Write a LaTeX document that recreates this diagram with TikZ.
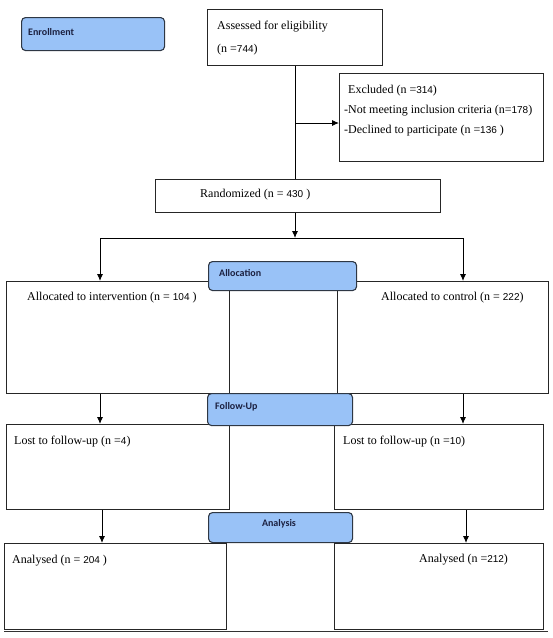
\documentclass[tikz,border=0pt]{standalone}
\usepackage{fontspec}
\setmainfont{Liberation Serif}
\newfontfamily\nbfont{Liberation Sans}
\newfontfamily\tagfont{Carlito}
\usepackage{tikz}
\usetikzlibrary{calc}
\usetikzlibrary{arrows.meta}
\definecolor{tagblue}{HTML}{99C2F7}
\definecolor{tagedge}{HTML}{2E3744}
\definecolor{tagtext}{HTML}{1B2040}
\newcommand{\nb} [1] {{\nbfont\fontsize{10}{12}\selectfont #1}}
\tikzset{box/.style={draw=black!85,line width=1.1pt,anchor=north west,inner sep=0pt}}
\tikzset{
tag/.style={draw=tagedge,fill=tagblue,line width=1.1pt,rounded corners=4pt,anchor=north west,inner sep=0pt},
tagtxt/.style={anchor=west,inner sep=0pt,text=tagtext,font=\tagfont\bfseries\fontsize{10}{12}\selectfont},
txt/.style={anchor=west,inner sep=0pt,font=\fontsize{12}{14}\selectfont},
arr/.style={line width=0.9pt,-{Latex[length=7pt,width=6pt]}}
}

\begin{document}
\begin{tikzpicture}[x=1pt,y=-1pt]
\useasboundingbox (0,0) rectangle (553,638);

% boxes: name/x/y/width/height
\foreach \n/\x/\y/\w/\h in {assess/207/9/175/56, excl/339/73/204/88, rand/155/179/285/33,
  allocL/6/281/223/112, allocR/337/281/211/112, lostL/6/424/223/85, lostR/334/424/209/85,
  anaL/4/543/222/86, anaR/334/543/209/86}
  {
 \node[box,minimum width=\w pt,minimum height=\h pt] (\n) at (\x,\y) {};
 }

\node[txt] (a1) at (217,27) {Assessed for eligibility};
\node[txt] (a2) at (217,50) {(n =\nb{744})};
\node[txt] (e1) at (348,91) {Excluded (n =\nb{314})};
\node[txt] (e2) at (344,111) {-Not meeting inclusion criteria (n=\nb{178})};
\node[txt] (e3) at (344,131) {-Declined to participate (n =\nb{136} )};
\node[txt] (r1) at (200,195) {Randomized (n = \nb{430} )};
\node[txt] (l1) at (27,298) {Allocated to intervention (n = \nb{104} )};
\node[txt] (l2) at (381,298) {Allocated to control (n = \nb{222})};
\node[txt] (f1) at (14,442) {Lost to follow-up (n =\nb{4})};
\node[txt] (f2) at (343,442) {Lost to follow-up (n =\nb{10})};
\node[txt] (s1) at (12,561) {Analysed (n = \nb{204} )};
\node[txt] (s2) at (419,560) {Analysed (n =\nb{212})};

% connectors
\coordinate (exj) at (295,123);
\coordinate (split) at (295,238);
\coordinate (brL) at (100,238);
\coordinate (brR) at (463,238);
\coordinate (dnL) at (102,520);
\coordinate (dnR) at (466,520);
\draw[line width=0.9pt] (assess.south -| exj) -- (rand.north -| exj);
\draw[arr] (exj) -- (exj -| excl.west);
\draw[arr] (rand.south -| split) -- (split);
\draw[line width=0.9pt] (brL) -- (brR);
\draw[arr] (brL) -- (brL |- allocL.north);
\draw[arr] (brR) -- (brR |- allocR.north);
\draw[arr] (allocL.south -| brL) -- (lostL.north -| brL);
\draw[arr] (allocR.south -| brR) -- (lostR.north -| brR);
\draw[arr] (lostL.south -| dnL) -- (anaL.north -| dnL);
\draw[arr] (lostR.south -| dnR) -- (anaR.north -| dnR);

% stage tags
\foreach \n/\x/\y/\w/\h in {tEnr/21/17/143/33, tAll/208/261/148/29, tFol/207/393/145/32, tAna/208/512/144/30}
  {
 \node[tag,minimum width=\w pt,minimum height=\h pt] (\n) at (\x,\y) {};
 }
\node[tagtxt] (g1) at (28,32) {Enrollment};
\node[tagtxt] (g2) at (219,273) {Allocation};
\node[tagtxt] (g3) at (215,407) {Follow-Up};
\node[tagtxt,anchor=center] (g4) at (279,524) {Analysis};

\draw[black!80,line width=0.8pt] (4,631) -- (548,631);
\end{tikzpicture}
\end{document}
